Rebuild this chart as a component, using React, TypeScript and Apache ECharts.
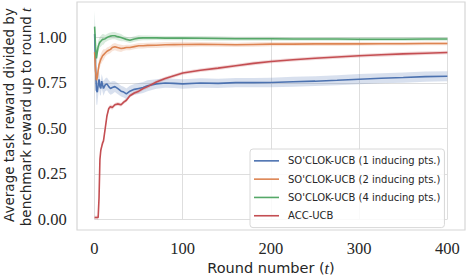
import React, { useEffect, useRef } from "react";
import * as echarts from "echarts";

const T = [0, 1, 2, 3, 4, 5, 6, 7, 8, 9, 10, 12, 14, 16, 18, 20, 23, 26, 30, 33, 36, 40, 45, 50, 55, 60, 70, 80, 90, 100, 120, 140, 160, 180, 200, 225, 250, 275, 300, 325, 350, 375, 400];

const blueMean = [1.02, 0.85, 0.71, 0.7, 0.74, 0.77, 0.73, 0.72, 0.76, 0.74, 0.72, 0.74, 0.745, 0.73, 0.72, 0.725, 0.73, 0.72, 0.705, 0.7, 0.69, 0.705, 0.715, 0.72, 0.725, 0.735, 0.745, 0.75, 0.748, 0.745, 0.75, 0.748, 0.752, 0.752, 0.753, 0.757, 0.76, 0.765, 0.771, 0.776, 0.78, 0.785, 0.787];
const blueSpread = [0.12, 0.1, 0.08, 0.07, 0.06, 0.05, 0.045, 0.04, 0.04, 0.04, 0.04, 0.035, 0.035, 0.035, 0.035, 0.035, 0.03, 0.03, 0.03, 0.03, 0.03, 0.03, 0.03, 0.03, 0.03, 0.03, 0.026, 0.026, 0.026, 0.026, 0.026, 0.026, 0.026, 0.026, 0.026, 0.027, 0.027, 0.027, 0.028, 0.028, 0.028, 0.028, 0.028];

const orangeMean = [0.92, 0.82, 0.765, 0.78, 0.82, 0.85, 0.865, 0.88, 0.89, 0.9, 0.905, 0.915, 0.925, 0.93, 0.935, 0.945, 0.95, 0.945, 0.94, 0.942, 0.945, 0.945, 0.95, 0.955, 0.955, 0.957, 0.958, 0.96, 0.961, 0.962, 0.963, 0.962, 0.96, 0.962, 0.964, 0.964, 0.965, 0.965, 0.965, 0.966, 0.966, 0.967, 0.967];
const orangeSpread = [0.1, 0.06, 0.04, 0.03, 0.03, 0.03, 0.03, 0.03, 0.03, 0.03, 0.03, 0.02, 0.02, 0.02, 0.02, 0.02, 0.02, 0.02, 0.02, 0.015, 0.015, 0.015, 0.015, 0.015, 0.015, 0.015, 0.015, 0.015, 0.015, 0.015, 0.012, 0.012, 0.012, 0.012, 0.012, 0.011, 0.011, 0.011, 0.01, 0.01, 0.01, 0.01, 0.01];

const greenMean = [1.06, 0.95, 0.885, 0.92, 0.95, 0.965, 0.975, 0.98, 0.985, 0.99, 0.99, 0.994, 1.0, 1.005, 1.008, 1.01, 1.01, 1.005, 1.0, 0.995, 0.99, 0.985, 0.992, 0.997, 0.998, 0.998, 0.998, 0.997, 0.997, 0.997, 0.996, 0.995, 0.993, 0.993, 0.993, 0.992, 0.992, 0.992, 0.991, 0.991, 0.991, 0.992, 0.992];
const greenSpread = [0.09, 0.06, 0.04, 0.03, 0.03, 0.03, 0.03, 0.03, 0.03, 0.03, 0.03, 0.02, 0.02, 0.02, 0.02, 0.02, 0.02, 0.02, 0.02, 0.015, 0.015, 0.015, 0.015, 0.015, 0.013, 0.013, 0.012, 0.012, 0.012, 0.012, 0.012, 0.012, 0.011, 0.011, 0.011, 0.01, 0.01, 0.01, 0.01, 0.01, 0.01, 0.01, 0.01];

const redMean = [0.01, 0.01, 0.01, 0.01, 0.01, 0.12, 0.33, 0.38, 0.4, 0.42, 0.43, 0.5, 0.57, 0.61, 0.62, 0.615, 0.63, 0.635, 0.63, 0.645, 0.655, 0.68, 0.695, 0.705, 0.72, 0.73, 0.755, 0.775, 0.79, 0.805, 0.82, 0.832, 0.845, 0.858, 0.868, 0.878, 0.886, 0.893, 0.9, 0.905, 0.91, 0.914, 0.918];
const redSpread = [0.01, 0.01, 0.01, 0.01, 0.015, 0.02, 0.02, 0.015, 0.015, 0.015, 0.015, 0.015, 0.012, 0.012, 0.012, 0.012, 0.01, 0.01, 0.01, 0.01, 0.01, 0.01, 0.01, 0.01, 0.01, 0.01, 0.01, 0.01, 0.01, 0.01, 0.01, 0.01, 0.01, 0.01, 0.01, 0.01, 0.01, 0.01, 0.01, 0.01, 0.01, 0.01, 0.01];

const seriesNames = [
  "SO'CLOK-UCB (1 inducing pts.)",
  "SO'CLOK-UCB (2 inducing pts.)",
  "SO'CLOK-UCB (4 inducing pts.)",
  "ACC-UCB",
];
const colors = ["#4C72B0", "#DD8452", "#55A868", "#C44E52"];
const bandColors = ["rgba(76,114,176,0.22)", "rgba(221,132,82,0.22)", "rgba(85,168,104,0.22)", "rgba(196,78,82,0.22)"];
const means = [blueMean, orangeMean, greenMean, redMean];
const spreads = [blueSpread, orangeSpread, greenSpread, redSpread];

const xTicks = [0, 100, 200, 300, 400];
const yTicks = [0, 0.25, 0.5, 0.75, 1.0];

export default function App() {
  const ref = useRef<HTMLDivElement>(null);
  useEffect(() => {
    if (!ref.current) return;
    const chart = echarts.init(ref.current, null, { renderer: "svg" });
    const gridColor = "#dedede";
    const serif = "'Liberation Serif', 'DejaVu Serif', serif";
    const sans = "'DejaVu Sans', sans-serif";
    const series: any[] = [];
    means.forEach((m, k) => {
      const sp = spreads[k];
      series.push({
        type: "custom",
        name: "band-" + k,
        xAxisIndex: 0,
        yAxisIndex: 0,
        silent: true,
        data: [[T[0], m[0]]],
        renderItem: (params: any, api: any) => {
          const pts: number[][] = [];
          for (let i = 0; i < T.length; i++) pts.push(api.coord([T[i], m[i] + sp[i]]));
          for (let i = T.length - 1; i >= 0; i--) pts.push(api.coord([T[i], m[i] - sp[i]]));
          return { type: "polygon", shape: { points: pts }, style: { fill: bandColors[k], stroke: "none" } };
        },
      });
    });
    means.forEach((m, k) => {
      series.push({
        type: "line",
        name: seriesNames[k],
        xAxisIndex: 0,
        yAxisIndex: 0,
        data: m.map((v, i) => [T[i], v]),
        symbol: "none",
        color: colors[k],
        lineStyle: { color: colors[k], width: 1.6 },
      });
    });
    chart.setOption({
      animation: false,
      backgroundColor: "#ffffff",
      grid: [
        { left: 77, right: 1, top: 2, bottom: 50, show: true, borderColor: "#d6d6d6", borderWidth: 1.2, backgroundColor: "transparent" },
        { left: 94.3, right: 18.7, top: 37.3, bottom: 60.7, show: false },
      ],
      xAxis: [
        { type: "value", gridIndex: 0, min: -20, max: 420, show: false, splitLine: { show: false } },
        {
          type: "value", gridIndex: 1, min: 0, max: 400, interval: 100,
          axisLine: { show: false }, axisTick: { show: false },
          axisLabel: { margin: 21, fontFamily: serif, fontSize: 16.5, color: "#262626",
            formatter: (v: number) => (xTicks.includes(v) ? String(v) : "") },
          splitLine: { show: true, lineStyle: { color: gridColor, width: 1 } },
        },
      ],
      yAxis: [
        { type: "value", gridIndex: 0, min: -0.0588, max: 1.1956, show: false, splitLine: { show: false } },
        {
          type: "value", gridIndex: 1, min: 0, max: 1, interval: 0.25,
          axisLine: { show: false }, axisTick: { show: false },
          axisLabel: { margin: 27.6, fontFamily: serif, fontSize: 16.5, color: "#262626",
            formatter: (v: number) => (yTicks.some((t) => Math.abs(t - v) < 1e-9) ? v.toFixed(2) : "") },
          splitLine: { show: true, lineStyle: { color: gridColor, width: 1 } },
        },
      ],
      legend: {
        data: seriesNames,
        orient: "vertical",
        left: 250,
        top: 149,
        padding: [5, 4, 5, 4],
        icon: "rect",
        itemWidth: 25,
        itemHeight: 1.6,
        itemGap: 4.6,
        borderColor: "#d8d8d8",
        borderWidth: 1,
        borderRadius: 3,
        backgroundColor: "rgba(255,255,255,0.85)",
        textStyle: { fontFamily: sans, fontSize: 10, lineHeight: 13.7, color: "#262626", padding: [0, 0, 0, 4] },
      },
      graphic: [
        {
          type: "text",
          x: 271,
          y: 268,
          style: {
            text: "Round number ({i|t})",
            fontFamily: sans,
            fontSize: 14.5,
            fill: "#262626",
            textAlign: "center",
            textVerticalAlign: "middle",
            rich: { i: { fontFamily: serif, fontStyle: "italic", fontSize: 16, fill: "#262626" } },
          },
        },
        {
          type: "text",
          x: 9,
          y: 115,
          rotation: Math.PI / 2,
          style: {
            text: "Average task reward divided by",
            fontFamily: sans,
            fontSize: 13.5,
            fill: "#262626",
            textAlign: "center",
            textVerticalAlign: "middle",
          },
        },
        {
          type: "text",
          x: 26,
          y: 117,
          rotation: Math.PI / 2,
          style: {
            text: "benchmark reward up to round {i|t}",
            fontFamily: sans,
            fontSize: 13.5,
            fill: "#262626",
            textAlign: "center",
            textVerticalAlign: "middle",
            rich: { i: { fontFamily: serif, fontStyle: "italic", fontSize: 15, fill: "#262626" } },
          },
        },
      ],
      series,
    });
    return () => chart.dispose();
  }, []);
  return <div ref={ref} style={{ width: 466, height: 280, position: "absolute", left: 0, top: 0 }} />;
}
